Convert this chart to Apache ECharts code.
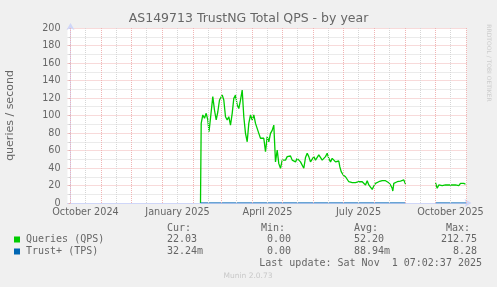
<!DOCTYPE html>
<html><head><meta charset="utf-8">
<script src="https://cdn.jsdelivr.net/npm/echarts@6/dist/echarts.min.js"></script>
<style>html,body{margin:0;padding:0;background:#f0f0f0}#c{width:497px;height:287px}</style>
</head><body><div id="c"></div>
<script>
const chartTitle = 'AS149713 TrustNG Total QPS - by year';
const yAxisName = 'queries / second';
// x = days since 2024-10-01
const qpsDays = [130,130.7,132.3,134,135.7,137.3,138.5,140,142.3,144,145.7,147.3,149,151.7,153.3,155,156.7,158.3,160,161.7,163.3,165,166.7,168.3,170,171.7,173.3,175,176.7,178.3,180,181.7,183.3,185,186.7,188.3,190,191.7,193.3,195,196.7,198.3,200,201.7,203.3,205,206.7,208.3,210,211.7,213.3,215,216.7,218.3,220,221.7,223.3,225,226.7,228.3,230,231.7,233.3,235,236.7,238.3,240,241.7,243.3,245,246.7,248.3,250,251.7,253.3,255,256.7,258.3,260,261.7,263.3,265,266.7,268.3,269.3,270.7,272.7,275,276.7,278.3,280,281.7,283.3,285,286.7,288.3,290,291.7,293.3,295,296.7,298.3,300,301.7,303.3,305,306.7,308.3,310,311.7,313.3,315,316.7,318.3,320,321.7,322.3,323.3,325,326.7,328.3,330,331.7,333.3,335,335.5,365,366.7,368.3,370,371.7,373.3,375,376.7,378.3,380,381.7,383.3,385,386.7,388.3,390,391.7,393.3,395];
const qpsValues = [0,91,100.6,96.8,102.5,94.9,81.5,96.8,121.5,106,94.9,104,117.7,123.4,117.7,98.6,94.9,98.6,89,102.5,119.6,123.4,112,108,117.7,129,98.6,79.6,70,91,100.6,94.9,100.6,91,89,79.6,74,75.8,74,58.6,75.8,70,79.6,83,89,47,60.6,45,39.7,49,51,49,53,51,53.7,49,51,47,51,49,47,45,39.7,52,56.8,53,47,49,53,49,51,55,55,49,47,53,56.8,51,47,51,49,47,49,48,41.5,35.8,32,30,32,24.3,24.3,23.2,24.3,23.2,22.5,24.3,22.5,24.3,22.5,20.6,25.5,20.6,18.7,15.6,19.4,22.5,23.2,24.3,25.5,25.5,25.1,25.5,24.3,23.2,20.6,16.8,13.7,22.5,23.2,24.3,23.2,25.1,23.2,26.3,21.7,null,23.2,16.8,20.6,18.7,19.8,19.4,20.6,19.4,20.6,19.4,20.6,18.7,20.6,21.7,19.8,22.5,20.6,22.5,21.4];
const tpsDays = [130, 335, 335.5, 365, 396];
const tpsValues = [0.09, 0.09, null, 0.09, 0.03];
const monthStarts = [0,31,61,92,123,151,182,212,243,273,304,335,365,396];
const midMonths = [15,46,76,107,138,166,197,227,258,288,319,350,380];
const xLabelDays = [15,107,197,288,380];
const xLabelNames = ['October 2024','January 2025','April 2025','July 2025','October 2025'];
const legendNames = ['Queries (QPS)','Trust+ (TPS)'];
const legendColors = ['#00cc00','#0066b3'];
const curVals = ['22.03','32.24m'];
const minVals = ['0.00','0.00'];
const avgVals = ['52.20','88.94m'];
const maxVals = ['212.75','8.28'];
const lastUpdate = 'Last update: Sat Nov  1 07:02:37 2025';
const footer = 'Munin 2.0.73';
const sideText = 'RRDTOOL / TOBI OETIKER';

const FONT = '"DejaVu Sans", sans-serif';
const MONO = '"DejaVu Sans Mono", monospace';
const TXT = '#666666';
const AXIS = '#CFD6F8';
const MGRID = '#f0b4b4';
const GRID = '#d6d6d6';

const chart = echarts.init(document.getElementById('c'), null, {renderer:'canvas'});
const pair = (xs, ys) => xs.map((x,i)=>[x, ys[i]]);

const mono = (text, x, y, align) => ({type:'text', x, y, silent:true,
  style:{text, font:'10px ' + MONO, fill:TXT, textAlign:align||'left', textVerticalAlign:'middle'}});

const graphics = [
  {type:'text', x:248.5, y:19, silent:true, style:{text:chartTitle, font:'12.5px ' + FONT, fill:TXT, textAlign:'center', textVerticalAlign:'middle'}},
  {type:'text', x:489, y:63, rotation:-Math.PI/2, silent:true, style:{text:sideText, font:'6px ' + FONT, fill:'#cccccc', textAlign:'center', textVerticalAlign:'middle'}},
  mono('Cur:',167,228), mono('Min:',261,228), mono('Avg:',354,228), mono('Max:',470,228,'right'),
  mono(lastUpdate,482,263.5,'right'),
  {type:'text', x:248, y:276, silent:true, style:{text:footer, font:'7.5px ' + FONT, fill:'#c8c8c8', textAlign:'center', textVerticalAlign:'middle'}}
];
legendNames.forEach((n,i)=>{
  const y = 239.5 + i*12;
  graphics.push({type:'rect', silent:true, shape:{x:14, y:y-3, width:6, height:6}, style:{fill:legendColors[i]}});
  graphics.push(mono(n,26,y));
  graphics.push(mono(curVals[i],167,y));
  graphics.push(mono(minVals[i],291,y,'right'));
  graphics.push(mono(avgVals[i],354,y));
  graphics.push(mono(maxVals[i],477,y,'right'));
});

const gridLines = midMonths.map(d=>({xAxis:d, lineStyle:{color:GRID, type:'dotted', width:1}}))
  .concat(monthStarts.map(d=>({xAxis:d, lineStyle:{color:MGRID, type:'dotted', width:1}})));

chart.setOption({
  animation:false,
  backgroundColor:'#f0f0f0',
  grid:{left:67.5, right:30.5, top:28, bottom:84, show:true, backgroundColor:'#ffffff', borderWidth:0, outerBoundsMode:'none', containLabel:false},
  xAxis:{type:'value', min:-3, max:396,
    axisLine:{show:true, lineStyle:{color:AXIS, width:1}, symbol:['none','arrow'], symbolSize:[6,7], symbolOffset:[0,5]},
    axisTick:{show:false},
    splitLine:{show:false},
    axisLabel:{customValues:xLabelDays, formatter:v=>xLabelNames[xLabelDays.indexOf(v)], fontFamily:'DejaVu Sans', fontSize:9.7, color:TXT, margin:4}
  },
  yAxis:{type:'value', min:0, max:200, interval:20,
    name:yAxisName, nameLocation:'middle', nameGap:52, nameRotate:90,
    nameTextStyle:{fontFamily:'DejaVu Sans', fontSize:11, color:TXT},
    axisLine:{show:true, lineStyle:{color:AXIS, width:1}, symbol:['none','arrow'], symbolSize:[6,7], symbolOffset:[0,5]},
    axisTick:{show:true, length:2, lineStyle:{color:'#e0b0b0'}},
    minorTick:{show:true, splitNumber:2, length:2, lineStyle:{color:'#d0d0d0'}},
    minorSplitLine:{show:true, lineStyle:{color:GRID, type:'dotted', width:1}},
    splitLine:{show:true, lineStyle:{color:MGRID, type:'dotted', width:1}},
    axisLabel:{fontFamily:'DejaVu Sans', fontSize:9.6, color:TXT, margin:7}
  },
  graphic:graphics,
  series:[
    {type:'line', data:[], silent:true, z:1,
      markLine:{silent:true, symbol:['none','none'], label:{show:false}, animation:false, data:gridLines}},
    {name:legendNames[0], type:'line', data:pair(qpsDays,qpsValues), showSymbol:false, connectNulls:false,
      lineStyle:{color:legendColors[0], width:1.3}, itemStyle:{color:legendColors[0]}, z:3},
    {name:legendNames[1], type:'line', data:pair(tpsDays,tpsValues), showSymbol:false, connectNulls:false,
      lineStyle:{color:legendColors[1], width:1}, itemStyle:{color:legendColors[1]}, z:4}
  ]
});
</script></body></html>
